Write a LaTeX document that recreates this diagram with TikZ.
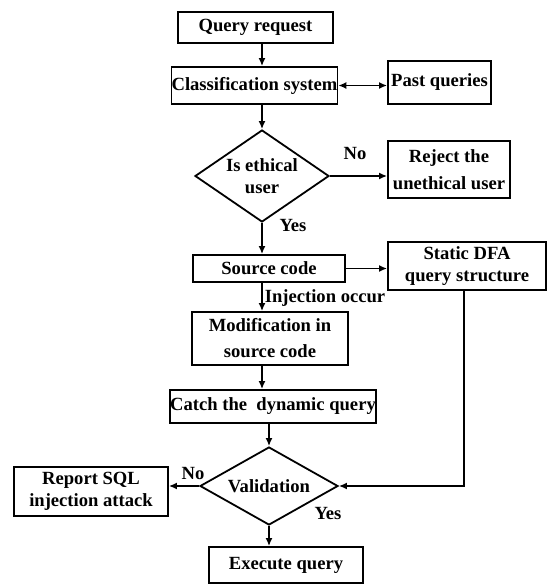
\documentclass[tikz,border=0pt]{standalone}
\usepackage{fontspec}
\setmainfont{Liberation Serif}
\usetikzlibrary{shapes.geometric,arrows.meta}
\begin{document}
\begin{tikzpicture}[x=1pt,y=-1pt,
  every node/.style={font=\bfseries\fontsize{18.6}{22}\selectfont, inner sep=0pt, align=center},
  box/.style={draw, line width=1.8pt, rectangle},
  dec/.style={draw, line width=1.8pt, diamond},
  conn/.style={line width=1.8pt, -{Latex[length=8pt,width=7pt]}},
  dconn/.style={line width=1.8pt, {Latex[length=8pt,width=7pt]}-{Latex[length=8pt,width=7pt]}},
  lbl/.style={font=\bfseries\fontsize{18.6}{22}\selectfont}]
\useasboundingbox (0,0) rectangle (547,584);
\node[box, minimum width=155pt, minimum height=31pt] (qr) at (255.5,27.5) {Query request};
\node[box, minimum width=163pt, minimum height=37pt] (cls) at (254.5,85.5) {Classification system};
\node[box, minimum width=103pt, minimum height=43pt] (past) at (439.5,82.5) {Past queries};
\node[dec, minimum width=134pt, minimum height=92pt, shape aspect=1.46] (eth) at (262,176) {Is ethical\\user};
\node[box, minimum width=122pt, minimum height=57pt] (rej) at (449,169.5) {Reject the\\[5pt]unethical user};
\node[box, minimum width=152pt, minimum height=27pt] (src) at (269,268.5) {Source code};
\node[box, minimum width=158pt, minimum height=48pt] (dfa) at (467,266) {Static DFA\\query structure};
\node[box, minimum width=156pt, minimum height=53pt] (mod) at (270,338.5) {Modification in\\[4pt]source code};
\node[box, minimum width=200pt, minimum height=33pt] (catch) at (273,406.5) {Catch the\ \ dynamic query};
\node[dec, minimum width=138pt, minimum height=78pt, shape aspect=1.77] (val) at (269,486) {Validation};
\node[box, minimum width=154pt, minimum height=49pt] (rep) at (91,491.5) {Report SQL\\injection attack};
\node[box, minimum width=154pt, minimum height=36pt] (exe) at (286,565) {Execute query};

\node[lbl] (lno1) at (355,153) {No};
\node[lbl] (lyes1) at (293,225) {Yes};
\node[lbl] (linj) at (325,298) {Injection occur};
\node[lbl] (lno2) at (193,473) {No};
\node[lbl] (lyes2) at (328,513) {Yes};

\coordinate (qrb) at (262,43);
\draw[conn] (qrb) -- (qrb |- cls.north);
\draw[dconn] (cls.east) -- (cls.east -| past.west);
\draw[conn] (cls.south -| eth.north) -- (eth.north);
\draw[conn] (eth.east) -- (eth.east -| rej.west);
\draw[conn] (eth.south) -- (eth.south |- src.north);
\draw[conn] (src.east) -- (src.east -| dfa.west);
\draw[conn] (eth.south |- src.south) -- (eth.south |- mod.north);
\draw[conn] (eth.south |- mod.south) -- (eth.south |- catch.north);
\draw[conn] (val.north |- catch.south) -- (val.north);
\draw[conn] ([xshift=-3pt]dfa.south) |- (val.east);
\draw[conn] (val.west) -- (val.west -| rep.east);
\draw[conn] (val.south) -- (val.south |- exe.north);
\end{tikzpicture}
\end{document}
